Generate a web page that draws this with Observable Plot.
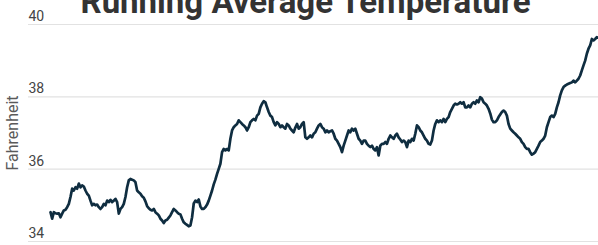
<!DOCTYPE html>
<html>
<head>
<meta charset="utf-8">
<script src="https://cdn.jsdelivr.net/npm/d3@7"></script>
<script src="https://cdn.jsdelivr.net/npm/@observablehq/plot@0.6"></script>
<style>
  html, body { margin: 0; padding: 0; background: #fff; }
</style>
</head>
<body>
<div id="chart"></div>
<script>
const title = "Running Average Temperature";
const yLabel = "Fahrenheit";
const yTicks = [34, 36, 38, 40];
// running average temperature, one value per time step
const temps = [
  34.81, 34.63, 34.81, 34.78, 34.77, 34.78, 34.67, 34.77, 34.86, 34.88,
  34.95, 35.04, 35.23, 35.46, 35.41, 35.50, 35.46, 35.60, 35.50, 35.55,
  35.52, 35.41, 35.32, 35.27, 35.13, 35.00, 35.04, 35.00, 35.02, 34.95,
  34.90, 34.95, 35.04, 35.00, 35.13, 35.09, 35.15, 35.09, 35.13, 35.18,
  35.09, 34.77, 34.90, 34.95, 35.04, 35.23, 35.50, 35.69, 35.73, 35.71,
  35.69, 35.64, 35.41, 35.36, 35.32, 35.25, 35.21, 35.11, 34.98, 34.92,
  34.88, 34.86, 34.90, 34.81, 34.77, 34.72, 34.63, 34.58, 34.51, 34.58,
  34.60, 34.66, 34.72, 34.81, 34.90, 34.86, 34.81, 34.77, 34.75, 34.63,
  34.53, 34.49, 34.46, 34.42, 34.44, 34.67, 35.05, 35.13, 35.09, 35.16,
  34.97, 34.90, 34.90, 34.95, 35.02, 35.13, 35.27, 35.41, 35.58, 35.71,
  35.87, 36.01, 36.15, 36.47, 36.56, 36.52, 36.56, 36.52, 36.84, 37.07,
  37.16, 37.21, 37.25, 37.35, 37.30, 37.25, 37.21, 37.16, 37.07, 37.16,
  37.30, 37.35, 37.39, 37.35, 37.48, 37.53, 37.71, 37.81, 37.88, 37.85,
  37.71, 37.58, 37.48, 37.44, 37.30, 37.21, 37.30, 37.25, 37.16, 37.21,
  37.16, 37.12, 37.25, 37.21, 37.12, 37.07, 37.02, 37.15, 37.25, 37.12,
  37.16, 37.25, 37.30, 36.88, 36.84, 36.88, 36.93, 36.88, 36.98, 37.02,
  37.12, 37.21, 37.25, 37.16, 37.12, 37.02, 37.07, 37.02, 37.05, 37.07,
  36.98, 36.84, 36.79, 36.70, 36.61, 36.47, 36.65, 36.79, 36.93, 37.07,
  37.02, 37.12, 37.07, 37.12, 36.98, 36.84, 36.79, 36.70, 36.79, 36.79,
  36.70, 36.65, 36.61, 36.65, 36.56, 36.52, 36.61, 36.38, 36.65, 36.70,
  36.70, 36.75, 36.70, 36.84, 36.93, 36.88, 36.84, 36.93, 36.98, 36.88,
  36.82, 36.75, 36.79, 36.75, 36.61, 36.79, 36.75, 36.84, 36.79, 36.98,
  37.21, 37.16, 37.07, 37.02, 36.93, 36.84, 36.79, 36.70, 36.68, 36.79,
  37.07, 37.25, 37.35, 37.30, 37.35, 37.30, 37.39, 37.30, 37.39, 37.44,
  37.58, 37.67, 37.76, 37.81, 37.79, 37.81, 37.85, 37.81, 37.85, 37.71,
  37.71, 37.76, 37.71, 37.81, 37.85, 37.81, 37.90, 37.85, 37.99, 37.95,
  37.85, 37.81, 37.76, 37.67, 37.54, 37.37, 37.30, 37.30, 37.35, 37.44,
  37.51, 37.58, 37.62, 37.58, 37.48, 37.25, 37.12, 37.07, 37.02, 36.98,
  36.93, 36.88, 36.84, 36.75, 36.70, 36.61, 36.56, 36.56, 36.47, 36.40,
  36.43, 36.47, 36.56, 36.65, 36.75, 36.79, 36.84, 36.93, 37.16, 37.30,
  37.44, 37.48, 37.44, 37.53, 37.71, 37.85, 38.04, 38.18, 38.27, 38.31,
  38.34, 38.36, 38.38, 38.40, 38.45, 38.40, 38.45, 38.50, 38.59, 38.73,
  38.87, 39.00, 39.19, 39.33, 39.42, 39.60, 39.56, 39.60, 39.65, 39.63
];
const steps = temps.map((_, i) => i);

const chart = Plot.plot({
  width: 598,
  height: 245,
  marginLeft: 50,
  marginRight: 0,
  marginTop: 24,
  marginBottom: 4,
  style: { fontFamily: "Roboto, sans-serif", background: "#fff" },
  x: { domain: [0, temps.length - 1], axis: null },
  y: { domain: [34, 40], axis: null },
  marks: [
    Plot.ruleY(yTicks, { stroke: "#e2e2e2", strokeWidth: 1.2, insetLeft: -22 }),
    Plot.text(yTicks, {
      y: d => d, text: d => String(d), frameAnchor: "left",
      textAnchor: "start", lineAnchor: "bottom", dx: -22, dy: -3.5,
      fontSize: 14, fill: "#444"
    }),
    Plot.text([yLabel], {
      text: d => d, frameAnchor: "left", rotate: -90, textAnchor: "middle",
      dx: -37.5, fontSize: 16, fill: "#5a5a5a"
    }),
    Plot.line(temps, {
      x: (d, i) => steps[i], y: d => d,
      stroke: "#0f2d40", strokeWidth: 2.7, strokeLinejoin: "round", strokeLinecap: "round"
    }),
    Plot.text([title], {
      text: d => d, frameAnchor: "top", lineAnchor: "bottom",
      dy: -12, dx: -19, fontSize: 33, fontWeight: "bold", fill: "#333"
    })
  ]
});
document.getElementById("chart").append(chart);
</script>
</body>
</html>
